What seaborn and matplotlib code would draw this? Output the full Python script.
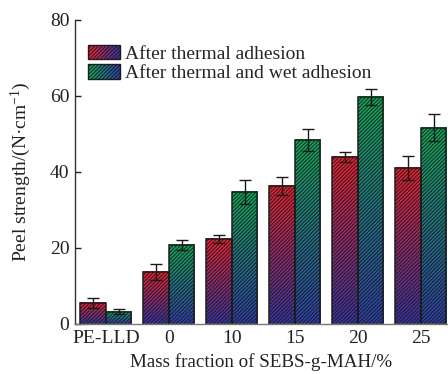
import matplotlib

matplotlib.use("Agg")

import matplotlib.pyplot as plt
import numpy as np
import pandas as pd
import seaborn as sns
from matplotlib.colors import LinearSegmentedColormap
from matplotlib.legend_handler import HandlerBase
from matplotlib.patches import Patch, Rectangle


CATEGORIES = ["PE-LLD", "0", "10", "15", "20", "25"]
SERIES = ["After thermal adhesion", "After thermal and wet adhesion"]
THERMAL = [5.4, 13.5, 22.2, 36.2, 43.9, 40.9]
THERMAL_ERR = [1.3, 2.1, 1.1, 2.4, 1.2, 3.2]
WET = [3.1, 20.6, 34.7, 48.4, 59.7, 51.6]
WET_ERR = [0.6, 1.3, 3.2, 2.8, 2.0, 3.6]
Y_TICKS = [0, 20, 40, 60, 80]

# bottom colour -> top colour of each bar
RED_MAP = LinearSegmentedColormap.from_list("red_grad", ["#3632a6", "#f0202c"])
GREEN_MAP = LinearSegmentedColormap.from_list("green_grad", ["#2c3daa", "#10aa56"])
EDGE = "#1c1c1c"
HATCH = "/////////"


class GradientHandler(HandlerBase):
    def __init__(self, cmap):
        super().__init__()
        self.cmap = cmap

    def create_artists(self, legend, orig_handle, xdescent, ydescent, width, height, fontsize, trans):
        artists = []
        steps = 20
        for i in range(steps):
            strip = Rectangle(
                (-xdescent + width * i / steps, -ydescent),
                width / steps * 1.05,
                height,
                facecolor=self.cmap(1 - i / (steps - 1)),
                edgecolor="none",
                transform=trans,
            )
            artists.append(strip)
        frame = Rectangle(
            (-xdescent, -ydescent), width, height,
            facecolor="none", edgecolor=EDGE, hatch=HATCH, linewidth=1.0, transform=trans,
        )
        artists.append(frame)
        return artists


def main() -> None:
    sns.set_theme(style="ticks")
    plt.rcParams["font.family"] = ["Liberation Serif", "DejaVu Serif"]
    plt.rcParams["mathtext.fontset"] = "custom"
    plt.rcParams["mathtext.rm"] = "Liberation Serif"
    plt.rcParams["mathtext.it"] = "Liberation Serif:italic"
    plt.rcParams["hatch.linewidth"] = 0.65

    df = pd.DataFrame({
        "category": CATEGORIES * 2,
        "series": [SERIES[0]] * len(CATEGORIES) + [SERIES[1]] * len(CATEGORIES),
        "value": THERMAL + WET,
    })

    fig = plt.figure(figsize=(4.48, 3.74), dpi=100)
    ax = fig.add_axes([75 / 448, 50.5 / 374, 373 / 448, 303.5 / 374])

    sns.barplot(
        data=df, x="category", y="value", hue="series", order=CATEGORIES,
        hue_order=SERIES, errorbar=None, width=0.81, legend=False, ax=ax,
    )

    for container, cmap, errs in zip(ax.containers[:2], [RED_MAP, GREEN_MAP], [THERMAL_ERR, WET_ERR]):
        centers = []
        tops = []
        for bar in container.patches:
            x0, w, h = bar.get_x(), bar.get_width(), bar.get_height()
            grad = np.linspace(0, 1, 256).reshape(-1, 1)
            ax.imshow(grad, extent=[x0, x0 + w, 0, h], origin="lower", aspect="auto",
                      cmap=cmap, zorder=1, interpolation="bilinear")
            bar.set_facecolor("none")
            bar.set_edgecolor(EDGE)
            bar.set_hatch(HATCH)
            bar.set_linewidth(1.1)
            bar.set_zorder(2)
            centers.append(x0 + w / 2)
            tops.append(h)
        ax.errorbar(centers, tops, yerr=errs, fmt="none", ecolor="#1a1a1a",
                    elinewidth=1.0, capsize=4, capthick=1.0, zorder=3)

    ax.set_xlim(-0.49, 5.43)
    ax.set_ylim(0, 80)
    ax.set_yticks(Y_TICKS)
    ax.set_aspect("auto")
    sns.despine(ax=ax)
    ax.spines["left"].set_color("#333333")
    ax.spines["bottom"].set_color("#777777")
    ax.spines["left"].set_linewidth(1.0)
    ax.spines["bottom"].set_linewidth(1.0)
    ax.tick_params(axis="y", direction="in", length=4, width=1.0, labelsize=14, colors="#222222", pad=4)
    ax.tick_params(axis="x", length=0, labelsize=14, colors="#222222", pad=5)
    ax.set_xlabel("Mass fraction of SEBS-g-MAH/%", fontsize=13.7, color="#222222", labelpad=4)
    ax.set_ylabel("Peel strength/(N·cm$^{-1}$)", fontsize=14, color="#222222", labelpad=12)

    handles = [Patch(label=SERIES[0]), Patch(label=SERIES[1])]
    ax.legend(
        handles=handles, labels=SERIES,
        handler_map={handles[0]: GradientHandler(RED_MAP), handles[1]: GradientHandler(GREEN_MAP)},
        loc="upper left", bbox_to_anchor=(0.035, 0.918), frameon=False, fontsize=14,
        handlelength=1.65, handleheight=0.75, handletextpad=0.25, labelspacing=0.08,
        borderpad=0, borderaxespad=0,
    )

    fig.savefig("out.png", dpi=100)
    plt.close(fig)


if __name__ == "__main__":
    main()
